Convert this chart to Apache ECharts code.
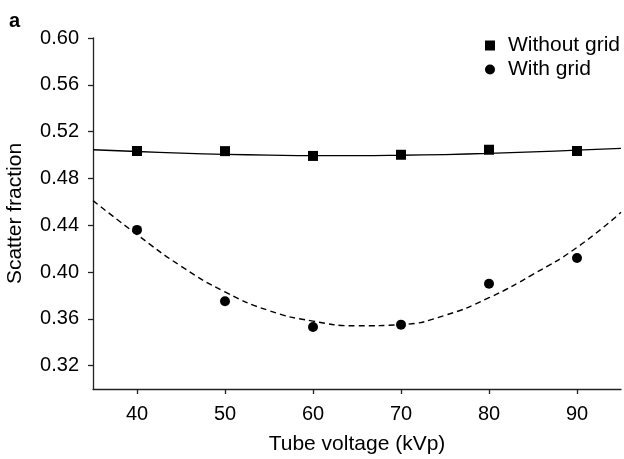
<!DOCTYPE html>
<html>
<head>
<meta charset="utf-8">
<script src="https://cdn.jsdelivr.net/npm/echarts@6/dist/echarts.min.js"></script>
<style>
  html, body { margin: 0; padding: 0; background: #fff; }
  #chart { width: 624px; height: 459px; }
</style>
</head>
<body>
<div id="chart"></div>
<script>
// measured points
var voltages = [40, 50, 60, 70, 80, 90];
var withoutGrid = [0.5034, 0.5033, 0.4992, 0.5002, 0.5045, 0.5034];
var withGrid = [0.436, 0.375, 0.353, 0.355, 0.390, 0.412];

// fitted curves, every 5 kVp
var fitVoltages = [35, 40, 45, 50, 55, 60, 65, 70, 75, 80, 85, 90, 95];
var fitWithout = [0.5045, 0.5030, 0.5016, 0.5006, 0.4999, 0.4995, 0.4995, 0.4998, 0.5004, 0.5014, 0.5027, 0.5041, 0.5057];
var fitWith = [0.461, 0.432, 0.405, 0.383, 0.367, 0.358, 0.354, 0.355, 0.363, 0.378, 0.398, 0.421, 0.451];

var xTicks = [40, 50, 60, 70, 80, 90];
var yTicks = [0.32, 0.36, 0.40, 0.44, 0.48, 0.52, 0.56, 0.60];

function pairs(xs, ys) {
  return xs.map(function (x, i) { return [x, ys[i]]; });
}

function renderScatterChart(chartID) {
  var chartDom = document.getElementById(chartID);
  var myChart = echarts.init(chartDom);
  var font = 'Liberation Sans, Arial, sans-serif';
  var axisColor = '#222';
  var option;

  option = {
    animation: false,
    textStyle: { fontFamily: font },
    title: {
      text: 'a',
      left: 4,
      top: 6,
      textStyle: { fontSize: 20, fontWeight: 'bold', color: '#000', fontFamily: font }
    },
    legend: {
      orient: 'vertical',
      left: 480,
      top: 30,
      itemWidth: 10,
      itemHeight: 10,
      itemGap: 3,
      data: ['Without grid', 'With grid'],
      textStyle: { fontSize: 21, color: '#000', lineHeight: 20, padding: [0, 0, 0, 8], fontFamily: font }
    },
    grid: { left: 93, right: 3, top: 38, bottom: 70, outerBoundsMode: 'none' },
    xAxis: {
      type: 'value',
      min: 35,
      max: 95,
      name: 'Tube voltage (kVp)',
      nameLocation: 'middle',
      nameGap: 45,
      nameTextStyle: { fontSize: 21, color: '#000', fontFamily: font },
      axisLine: { lineStyle: { color: axisColor, width: 1.3 } },
      axisTick: { show: true, length: 5, customValues: xTicks, lineStyle: { color: axisColor, width: 1.3 } },
      axisLabel: { customValues: xTicks, margin: 15, fontSize: 20, color: '#000', fontFamily: font },
      splitLine: { show: false }
    },
    yAxis: {
      type: 'value',
      min: 0.30,
      max: 0.60,
      name: 'Scatter fraction',
      nameLocation: 'middle',
      nameGap: 67,
      nameTextStyle: { fontSize: 21, color: '#000', fontFamily: font },
      axisLine: { show: true, lineStyle: { color: axisColor, width: 1.3 } },
      axisTick: { show: true, length: 5, customValues: yTicks, lineStyle: { color: axisColor, width: 1.3 } },
      axisLabel: {
        customValues: yTicks,
        margin: 14,
        fontSize: 20,
        color: '#000',
        fontFamily: font,
        formatter: function (v) { return v.toFixed(2); }
      },
      splitLine: { show: false }
    },
    series: [
      {
        name: 'Without grid fit',
        type: 'line',
        data: pairs(fitVoltages, fitWithout),
        smooth: true,
        showSymbol: false,
        silent: true,
        lineStyle: { color: '#000', width: 1.3, type: 'solid' },
        z: 1
      },
      {
        name: 'With grid fit',
        type: 'line',
        data: pairs(fitVoltages, fitWith),
        smooth: true,
        showSymbol: false,
        silent: true,
        lineStyle: { color: '#000', width: 1.4, type: [6, 4] },
        z: 1
      },
      {
        name: 'Without grid',
        type: 'scatter',
        symbol: 'rect',
        symbolSize: 10,
        data: pairs(voltages, withoutGrid),
        itemStyle: { color: '#000', opacity: 1 },
        z: 3
      },
      {
        name: 'With grid',
        type: 'scatter',
        symbol: 'circle',
        symbolSize: 10,
        data: pairs(voltages, withGrid),
        itemStyle: { color: '#000', opacity: 1 },
        z: 3
      }
    ]
  };

  option && myChart.setOption(option);
}

renderScatterChart('chart');
</script>
</body>
</html>
